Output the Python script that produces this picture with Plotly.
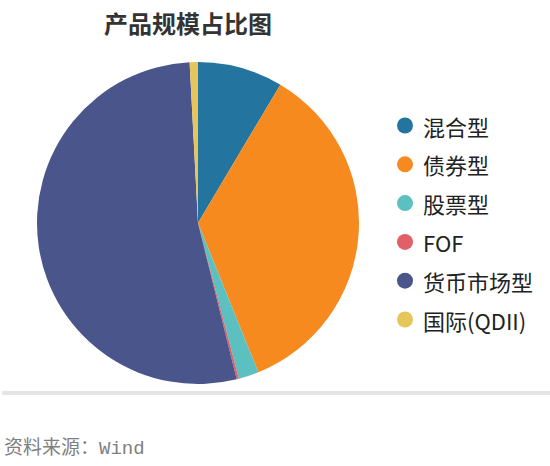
import plotly.graph_objects as go

categories = ["混合型", "债券型", "股票型", "FOF", "货币市场型", "国际(QDII)"]
shares = [8.54, 35.3, 2.03, 0.22, 52.98, 0.83]
colors = ["#23759f", "#f68a1e", "#5cbfc0", "#e06065", "#4a568b", "#e6c55a"]

W, H = 550, 466
cx, cy, r = 198, 223, 161

fig = go.Figure()
fig.add_trace(go.Pie(
    labels=categories, values=shares, sort=False, direction="clockwise", rotation=0,
    marker=dict(colors=colors, line=dict(width=0)),
    textinfo="none", hoverinfo="label+percent", showlegend=False,
    domain=dict(x=[(cx - r) / W, (cx + r) / W], y=[1 - (cy + r) / H, 1 - (cy - r) / H]),
))

shapes = []
annotations = []
# legend
lx, ly0, dy = 405, 125.5, 38.8
for i, (c, col) in enumerate(zip(categories, colors)):
    y = ly0 + i * dy
    shapes.append(dict(type="circle", xref="paper", yref="paper",
                       x0=(lx - 8) / W, x1=(lx + 8) / W,
                       y0=1 - (y + 8) / H, y1=1 - (y - 8) / H,
                       fillcolor=col, line=dict(width=0)))
    annotations.append(dict(text=c, xref="paper", yref="paper", x=421 / W, y=1 - y / H,
                            xanchor="left", yanchor="middle", showarrow=False,
                            font=dict(size=22, color="#222222", family="Noto Sans CJK SC")))

# separator line
shapes.append(dict(type="rect", xref="paper", yref="paper", x0=2 / W, x1=1,
                   y0=1 - 395 / H, y1=1 - 391 / H, fillcolor="#e4e5e6", line=dict(width=0)))

# title
annotations.append(dict(text="<b>产品规模占比图</b>", xref="paper", yref="paper",
                        x=188 / W, y=1 - 22.5 / H, xanchor="center", yanchor="middle",
                        showarrow=False,
                        font=dict(size=24, color="#333333", family="Noto Sans CJK SC")))
# source
annotations.append(dict(text="资料来源：Wind", xref="paper", yref="paper",
                        x=2 / W, y=1 - 448 / H, xanchor="left", yanchor="middle",
                        showarrow=False,
                        font=dict(size=19, color="#7f7f7f", family="Liberation Mono, Noto Sans CJK SC")))

fig.update_layout(width=W, height=H, margin=dict(l=0, r=0, t=0, b=0),
                  paper_bgcolor="white", plot_bgcolor="white",
                  shapes=shapes, annotations=annotations)
fig.write_html("out.html", config={"displayModeBar": False},
               post_script="document.body.style.margin='0px';document.body.style.overflow='hidden';")
